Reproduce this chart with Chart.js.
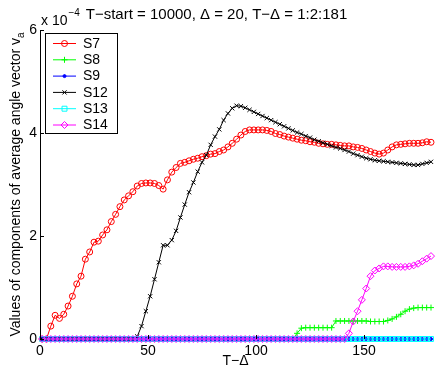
<!DOCTYPE html>
<html>
<head>
<meta charset="utf-8">
<script src="https://cdn.jsdelivr.net/npm/chart.js@4"></script>
<style>
html, body { margin: 0; padding: 0; background: #fff; }
#wrap { width: 436px; height: 368px; }
</style>
</head>
<body>
<div id="wrap"><canvas id="chart" width="436" height="368"></canvas></div>
<script>
// T-Δ = 1:2:181
const tDelta = [1,3,5,7,9,11,13,15,17,19,21,23,25,27,29,31,33,35,37,39,41,43,45,47,49,51,53,55,57,59,
  61,63,65,67,69,71,73,75,77,79,81,83,85,87,89,91,93,95,97,99,101,103,105,107,109,111,113,115,117,119,
  121,123,125,127,129,131,133,135,137,139,141,143,145,147,149,151,153,155,157,159,161,163,165,167,169,
  171,173,175,177,179,181];

// 値は x 10^-4 単位
const s7 = [0, 0, 0.25, 0.46, 0.40, 0.48, 0.64, 0.83, 1.07, 1.22,
  1.55, 1.69, 1.88, 1.90, 2.02, 2.12, 2.28, 2.42, 2.57, 2.70,
  2.78, 2.86, 2.97, 3.02, 3.03, 3.03, 3.02, 2.98, 2.91, 3.09,
  3.24, 3.33, 3.41, 3.43, 3.46, 3.49, 3.51, 3.54, 3.56, 3.59,
  3.60, 3.64, 3.67, 3.73, 3.80, 3.88, 3.96, 4.03, 4.06, 4.06,
  4.06, 4.06, 4.05, 4.03, 3.99, 3.97, 3.94, 3.92, 3.90, 3.88,
  3.86, 3.85, 3.83, 3.82, 3.80, 3.79, 3.78, 3.78, 3.77, 3.76,
  3.75, 3.75, 3.73, 3.72, 3.70, 3.67, 3.64, 3.61, 3.59, 3.61,
  3.67, 3.73, 3.77, 3.78, 3.79, 3.80, 3.80, 3.80, 3.81, 3.83,
  3.82];
const s8 = [0, 0, 0, 0, 0, 0, 0, 0, 0, 0,
  0, 0, 0, 0, 0, 0, 0, 0, 0, 0,
  0, 0, 0, 0, 0, 0, 0, 0, 0, 0,
  0, 0, 0, 0, 0, 0, 0, 0, 0, 0,
  0, 0, 0, 0, 0, 0, 0, 0, 0, 0,
  0, 0, 0, 0, 0, 0, 0, 0, 0, 0.11,
  0.21, 0.22, 0.22, 0.22, 0.22, 0.22, 0.22, 0.22, 0.35, 0.35,
  0.35, 0.35, 0.35, 0.35, 0.35, 0.35, 0.34, 0.34, 0.34, 0.34,
  0.36, 0.39, 0.43, 0.48, 0.54, 0.58, 0.60, 0.61, 0.61, 0.61,
  0.61];
const s9 = [0, 0, 0, 0, 0, 0, 0, 0, 0, 0,
  0, 0, 0, 0, 0, 0, 0, 0, 0, 0,
  0, 0, 0, 0, 0, 0, 0, 0, 0, 0,
  0, 0, 0, 0, 0, 0, 0, 0, 0, 0,
  0, 0, 0, 0, 0, 0, 0, 0, 0, 0,
  0, 0, 0, 0, 0, 0, 0, 0, 0, 0,
  0, 0, 0, 0, 0, 0, 0, 0, 0, 0,
  0, 0, 0, 0, 0, 0, 0, 0, 0, 0,
  0, 0, 0, 0, 0, 0, 0, 0, 0, 0,
  0];
const s12 = [0, 0, 0, 0, 0, 0, 0, 0, 0, 0,
  0, 0, 0, 0, 0, 0, 0, 0, 0, 0,
  0, 0, 0.05, 0.25, 0.54, 0.83, 1.16, 1.49, 1.82, 1.82,
  1.92, 2.10, 2.36, 2.61, 2.85, 3.04, 3.25, 3.43, 3.57, 3.77,
  3.93, 4.07, 4.25, 4.38, 4.48, 4.53, 4.52, 4.49, 4.45, 4.41,
  4.37, 4.33, 4.29, 4.25, 4.21, 4.17, 4.13, 4.09, 4.05, 4.01,
  3.98, 3.94, 3.91, 3.87, 3.84, 3.81, 3.78, 3.75, 3.72, 3.70,
  3.67, 3.64, 3.60, 3.57, 3.54, 3.51, 3.49, 3.47, 3.46, 3.45,
  3.44, 3.43, 3.42, 3.41, 3.40, 3.39, 3.38, 3.38, 3.40, 3.42,
  3.44];
const s13 = [0, 0, 0, 0, 0, 0, 0, 0, 0, 0,
  0, 0, 0, 0, 0, 0, 0, 0, 0, 0,
  0, 0, 0, 0, 0, 0, 0, 0, 0, 0,
  0, 0, 0, 0, 0, 0, 0, 0, 0, 0,
  0, 0, 0, 0, 0, 0, 0, 0, 0, 0,
  0, 0, 0, 0, 0, 0, 0, 0, 0, 0,
  0, 0, 0, 0, 0, 0, 0, 0, 0, 0,
  0, 0, 0, 0, 0, 0, 0, 0, 0, 0,
  0, 0, 0, 0, 0, 0, 0, 0, 0, 0,
  0];
const s14 = [0, 0, 0, 0, 0, 0, 0, 0, 0, 0,
  0, 0, 0, 0, 0, 0, 0, 0, 0, 0,
  0, 0, 0, 0, 0, 0, 0, 0, 0, 0,
  0, 0, 0, 0, 0, 0, 0, 0, 0, 0,
  0, 0, 0, 0, 0, 0, 0, 0, 0, 0,
  0, 0, 0, 0, 0, 0, 0, 0, 0, 0,
  0, 0, 0, 0, 0, 0, 0, 0, 0, 0,
  0, 0.11, 0.34, 0.54, 0.76, 0.98, 1.22, 1.33, 1.37, 1.41,
  1.41, 1.40, 1.40, 1.40, 1.40, 1.41, 1.43, 1.46, 1.51, 1.56,
  1.61];

const seriesNames = ['S7', 'S8', 'S9', 'S12', 'S13', 'S14'];
const seriesValues = [s7, s8, s9, s12, s13, s14];
const xTicks = [0, 50, 100, 150];
const yTicks = [0, 2, 4, 6];

const FONT = '"Liberation Sans", Arial, Helvetica, sans-serif';

// マーカーの見た目 (MATLAB風)
const styles = [
  { color: '#ff0000', pointStyle: 'circle', radius: 3, fill: 'rgba(0,0,0,0)' },
  { color: '#00ff00', pointStyle: 'cross', radius: 3, fill: 'rgba(0,0,0,0)' },
  { color: '#0000ff', pointStyle: 'circle', radius: 1.5, fill: '#0000ff' },
  { color: '#000000', pointStyle: 'crossRot', radius: 3, fill: 'rgba(0,0,0,0)' },
  { color: '#00ffff', pointStyle: 'rect', radius: 3.5, fill: 'rgba(0,0,0,0)' },
  { color: '#ff00ff', pointStyle: 'rectRot', radius: 3.5, fill: 'rgba(0,0,0,0)' }
];

const datasets = seriesNames.map((name, i) => ({
  label: name,
  data: tDelta.map((t, j) => ({ x: t, y: seriesValues[i][j] })),
  borderColor: styles[i].color,
  borderWidth: 1,
  pointStyle: styles[i].pointStyle,
  pointRadius: styles[i].radius,
  pointBorderColor: styles[i].color,
  pointBackgroundColor: styles[i].fill,
  pointBorderWidth: 1,
  tension: 0,
  fill: false,
  clip: false,
  order: seriesNames.length - i // 後のシリーズを上に描く
}));

// 内向きの目盛り、指数ラベル、縦軸タイトル
const decorPlugin = {
  id: 'decor',
  afterDraw(chart) {
    const ctx = chart.ctx;
    const area = chart.chartArea;
    const xs = chart.scales.x;
    const ys = chart.scales.y;
    ctx.save();
    ctx.strokeStyle = '#000';
    ctx.lineWidth = 1;
    ctx.beginPath();
    yTicks.forEach(v => {
      const y = Math.round(ys.getPixelForValue(v)) + 0.5;
      ctx.moveTo(area.left, y);
      ctx.lineTo(area.left + 4, y);
    });
    xTicks.forEach(v => {
      const x = Math.round(xs.getPixelForValue(v)) + 0.5;
      ctx.moveTo(x, area.bottom);
      ctx.lineTo(x, area.bottom - 4);
    });
    ctx.stroke();

    // x 10^-4
    ctx.fillStyle = '#000';
    ctx.textBaseline = 'alphabetic';
    ctx.textAlign = 'left';
    ctx.font = '14px ' + FONT;
    const base = 'x 10';
    ctx.fillText(base, area.left + 1, 25);
    const bw = ctx.measureText(base).width;
    ctx.font = '10px ' + FONT;
    ctx.fillText('\u22124', area.left + 2 + bw, 16);

    // 縦軸タイトル (下付き a)
    const main = 'Values of components of average angle vector v';
    ctx.font = '14px ' + FONT;
    const w1 = ctx.measureText(main).width;
    ctx.font = '10px ' + FONT;
    const w2 = ctx.measureText('a').width;
    ctx.translate(20, (area.top + area.bottom) / 2);
    ctx.rotate(-Math.PI / 2);
    const start = -(w1 + w2) / 2;
    ctx.font = '14px ' + FONT;
    ctx.fillText(main, start, 0);
    ctx.font = '10px ' + FONT;
    ctx.fillText('a', start + w1, 4);
    ctx.restore();
  }
};

// 凡例 (枠付き、線+マーカー)
const legendPlugin = {
  id: 'boxLegend',
  afterDatasetsDraw(chart) {
    const ctx = chart.ctx;
    const left = 45.5, top = 33.5, w = 72, h = 100;
    ctx.save();
    ctx.fillStyle = '#fff';
    ctx.fillRect(left, top, w, h);
    ctx.strokeStyle = '#000';
    ctx.lineWidth = 1;
    ctx.strokeRect(left, top, w, h);
    ctx.font = '14px ' + FONT;
    ctx.textBaseline = 'middle';
    ctx.textAlign = 'left';
    chart.data.datasets.forEach((ds, i) => {
      const y = 43.5 + i * 16.3;
      ctx.strokeStyle = ds.borderColor;
      ctx.lineWidth = 1;
      ctx.beginPath();
      ctx.moveTo(53, y);
      ctx.lineTo(76, y);
      ctx.stroke();
      ctx.fillStyle = ds.pointBackgroundColor;
      Chart.helpers.drawPoint(ctx, {
        pointStyle: ds.pointStyle,
        radius: ds.pointRadius,
        rotation: 0,
        borderWidth: 1
      }, 64.5, y);
      ctx.fillStyle = '#000';
      ctx.fillText(ds.label, 83, y + 0.5);
    });
    ctx.restore();
  }
};

new Chart(document.getElementById('chart'), {
  type: 'line',
  data: { datasets: datasets },
  options: {
    responsive: false,
    animation: false,
    layout: { padding: { left: 0, right: 3, top: 0, bottom: 0 } },
    plugins: {
      legend: { display: false },
      tooltip: { enabled: false },
      title: {
        display: true,
        text: 'T\u2212start = 10000, \u0394 = 20, T\u2212\u0394 = 1:2:181',
        color: '#000',
        font: { family: FONT, size: 15, weight: 'normal', lineHeight: 1 },
        padding: { top: 7.5, bottom: 7.5 }
      }
    },
    scales: {
      x: {
        type: 'linear',
        min: 0,
        max: 181,
        afterBuildTicks: s => { s.ticks = xTicks.map(v => ({ value: v })); },
        afterFit: s => { s.height = 29; },
        grid: { display: false, drawTicks: false },
        border: { display: true, color: '#000', width: 1 },
        ticks: { color: '#000', font: { family: FONT, size: 14, lineHeight: 1 }, padding: 5, maxRotation: 0, autoSkip: false },
        title: { display: true, text: 'T\u2212\u0394', color: '#000', font: { family: FONT, size: 14, lineHeight: 1 }, padding: { top: -4, bottom: 0 } }
      },
      y: {
        type: 'linear',
        min: 0,
        max: 6,
        afterBuildTicks: s => { s.ticks = yTicks.map(v => ({ value: v })); },
        afterFit: s => { s.width = 40; },
        grid: { display: false, drawTicks: false },
        border: { display: true, color: '#000', width: 1 },
        ticks: { color: '#000', font: { family: FONT, size: 14 }, padding: 3 }
      }
    }
  },
  plugins: [decorPlugin, legendPlugin]
});
</script>
</body>
</html>
